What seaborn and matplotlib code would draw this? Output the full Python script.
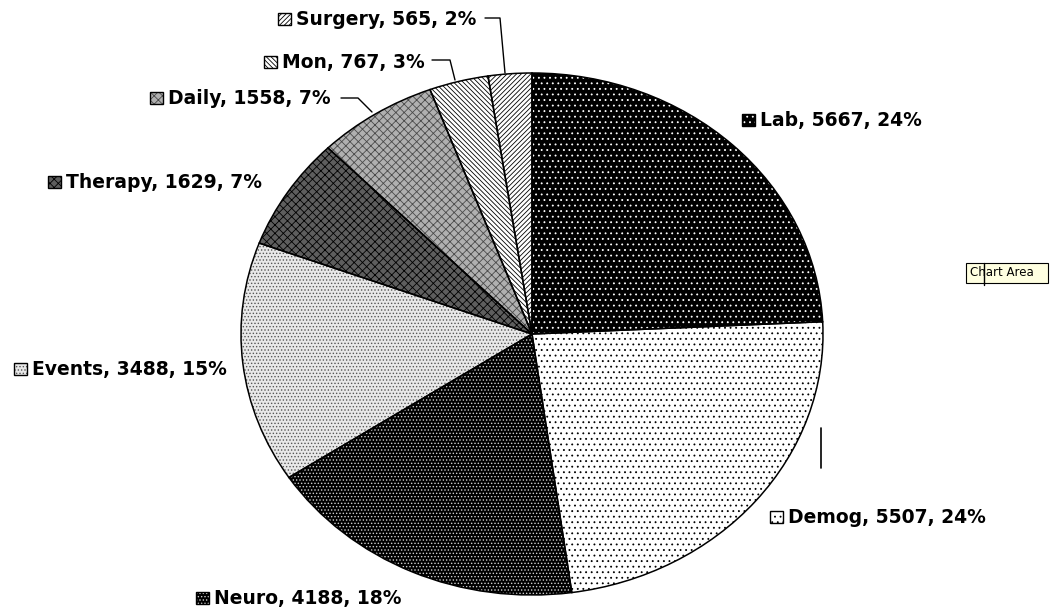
import numpy as np
import matplotlib
matplotlib.use("Agg")
import matplotlib.pyplot as plt
import seaborn as sns
from matplotlib.patches import Rectangle

categories = ["Lab", "Demog", "Neuro", "Events", "Therapy", "Daily", "Mon", "Surgery"]
counts = [5667, 5507, 4188, 3488, 1629, 1558, 767, 565]

# fill patterns: face colour, hatch, hatch colour
faces = ["black", "white", "black", "#e8e8e8", "#5e5e5e", "#b0b0b0", "white", "white"]
hatches = ["...", "...", ".....", ".....", "xxxx", "xxxx", "\\" * 7, "/" * 7]
hatch_cols = ["white", "black", "#d0d0d0", "#555555", "black", "#4a4a4a", "black", "black"]

# label text left edge and baseline, in picture pixels
label_px = [(760, 126), (788, 523), (214, 604), (32, 375),
            (66, 188), (168, 104), (282, 68), (296, 25)]

W, H = 1055, 609
cx, cy, rx, ry = 532, 334, 291, 261

sns.set_theme(style="white")
plt.rcParams["font.family"] = ["DejaVu Sans"]
plt.rcParams["hatch.linewidth"] = 0.6

fig = plt.figure(figsize=(W / 100, H / 100), dpi=100)
ax = fig.add_axes([0, 0, 1, 1])

wedges, _ = ax.pie(counts, startangle=90, counterclock=False, radius=1)
for w, f, h, hc in zip(wedges, faces, hatches, hatch_cols):
    w.set_facecolor(f)
    w.set_hatch(h)
    w.set_edgecolor(hc)
    w.set_linewidth(0)
ax.pie(counts, startangle=90, counterclock=False, radius=1,
       wedgeprops=dict(facecolor="none", edgecolor="black", linewidth=1.1))

ax.set_aspect("auto")
ax.set_xlim(-cx / rx, (W - cx) / rx)
ax.set_ylim(-(H - cy) / ry, cy / ry)
ax.axis("off")


def px(x, y):
    return x / W, 1 - y / H


total = sum(counts)
for name, c, (lx, ly), f, h, hc in zip(categories, counts, label_px, faces, hatches, hatch_cols):
    pct = round(c / total * 100)
    ax.text(*px(lx, ly), f"{name}, {c}, {pct}%", transform=ax.transAxes,
            ha="left", va="baseline", fontsize=13.5, fontweight="bold", color="black")
    kx, ky = px(lx - 18, ly)
    ax.add_patch(Rectangle((kx, ky), 13 / W, 12 / H, transform=ax.transAxes,
                           facecolor=f, hatch=h, edgecolor=hc, linewidth=0))
    ax.add_patch(Rectangle((kx, ky), 13 / W, 12 / H, transform=ax.transAxes,
                           facecolor="none", edgecolor="black", linewidth=1))

# leader lines for the small slices
leaders = [[(485, 18), (500, 18), (505, 73)],
           [(432, 60), (450, 60), (455, 80)],
           [(341, 98), (358, 98), (372, 112)]]
for pts in leaders:
    xs, ys = zip(*[px(x, y) for x, y in pts])
    ax.plot(xs, ys, color="black", linewidth=1, transform=ax.transAxes)

# cursor / tooltip left in the screenshot
ax.plot(*zip(px(821, 428), px(821, 468)), color="black", linewidth=1.2, transform=ax.transAxes)
bx, by = px(966, 283)
ax.add_patch(Rectangle((bx, by), 82 / W, 20 / H, transform=ax.transAxes,
                       facecolor="#ffffe1", edgecolor="black", linewidth=0.8))
ax.text(*px(970, 273), "Chart Area", transform=ax.transAxes, ha="left", va="center",
        fontsize=8.5, color="black")
ax.plot(*zip(px(984, 263), px(984, 285)), color="black", linewidth=1, transform=ax.transAxes)

fig.savefig("out.png", dpi=100, facecolor="white")
